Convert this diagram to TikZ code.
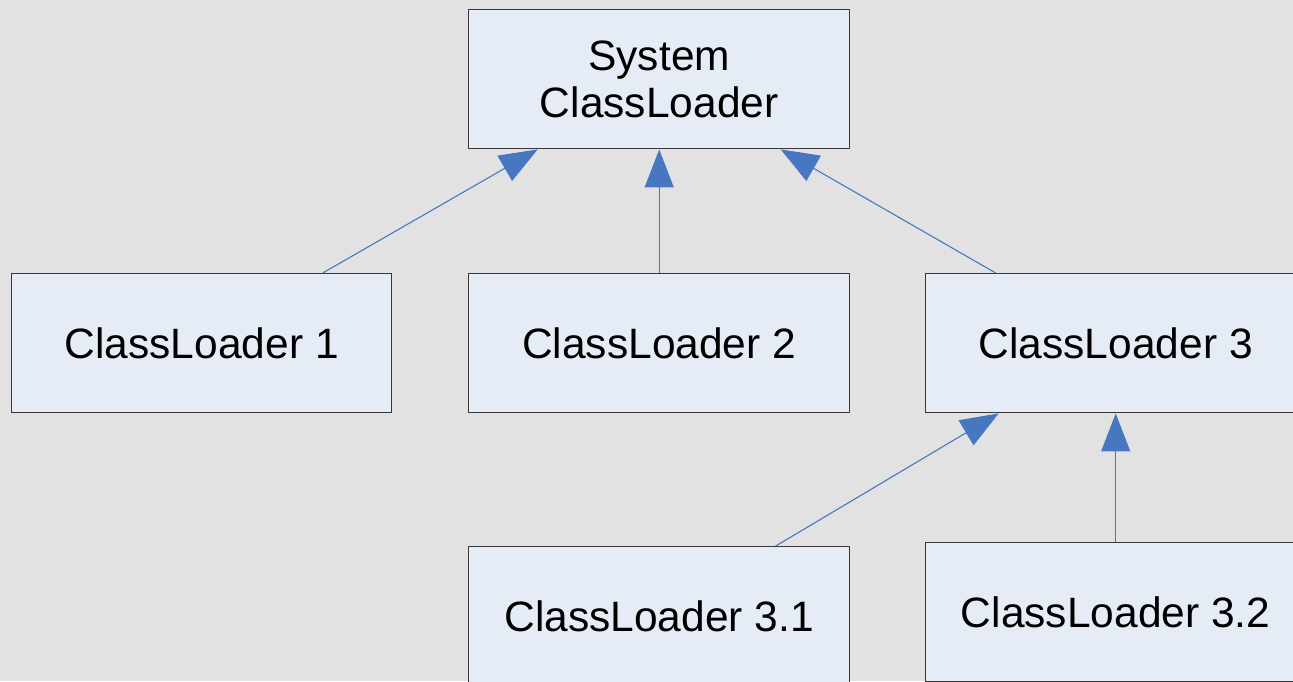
\documentclass[tikz,border=0pt]{standalone}
\usepackage{fontspec}
\setmainfont{Liberation Sans}
\usetikzlibrary{arrows.meta,calc}
\definecolor{bgc}{HTML}{E2E2E2}
\definecolor{boxfill}{HTML}{E6ECF6}
\definecolor{boxline}{HTML}{383838}
\definecolor{arrc}{HTML}{4677C0}
\tikzset{
  clbox/.style={draw=boxline, line width=1.4pt, fill=boxfill, minimum width=381pt, minimum height=139pt, inner sep=0pt, align=center, font=\fontsize{42.5}{47}\selectfont, anchor=north west},
  inh/.style={draw=arrc, line width=1.1pt, -{Triangle[length=38pt,width=29pt,fill=arrc]}}
}
\begin{document}
\begin{tikzpicture}[x=1pt,y=-1pt]
\fill[bgc] (0,0) rectangle (1293,681);
\useasboundingbox (0,0) rectangle (1293,681);
\node[clbox] (sys) at (468,9) {System\\ClassLoader};
\node[clbox, minimum width=380pt] (cl1) at (11,273) {ClassLoader 1};
\node[clbox] (cl2) at (468,273) {ClassLoader 2};
\node[clbox, minimum width=380pt] (cl3) at (925,273) {ClassLoader 3};
\node[clbox] (cl31) at (468,546) {ClassLoader 3.1};
\node[clbox, minimum width=380pt] (cl32) at (925,542) {ClassLoader 3.2};
\draw[inh] ($(cl1.north)+(121,0)$) -- ($(sys.south)+(-121.5,0)$);
\draw[inh] (cl2.north) -- (sys.south);
\draw[inh] ($(cl3.north)+(-120,0)$) -- ($(sys.south)+(121.5,0)$);
\draw[inh] ($(cl31.north)+(116.5,0)$) -- ($(cl3.south)+(-117,0)$);
\draw[inh] (cl32.north) -- (cl3.south);
\end{tikzpicture}
\end{document}
